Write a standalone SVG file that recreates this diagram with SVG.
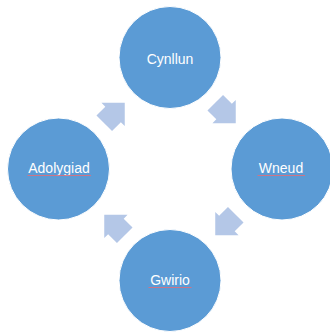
<svg xmlns="http://www.w3.org/2000/svg" width="330" height="334" viewBox="0 0 330 334">
  <defs>
    <style>
      .node { fill: #5B9BD5; stroke: #FFFFFF; stroke-width: 1; }
      .lbl { fill: #FFFFFF; font-family: "Liberation Sans", Arial, sans-serif; font-size: 14px; text-anchor: middle; }
      .arrow { fill: #B4C7E7; }
      .squiggle { fill: none; stroke: #D9707E; stroke-width: 0.9; }
    </style>
    <polygon id="blockArrow" points="-14.5,-11 -2,-11 -2,-16.5 14.5,0 -2,16.5 -2,11 -14.5,11"/>
  </defs>
  <rect width="330" height="334" fill="#FFFFFF"/>
  <g id="connectors">
    <use href="#blockArrow" class="arrow" transform="translate(114.5,113) rotate(-45)"/>
    <use href="#blockArrow" class="arrow" transform="translate(225.5,113) rotate(45)"/>
    <use href="#blockArrow" class="arrow" transform="translate(225.5,225) rotate(135)"/>
    <use href="#blockArrow" class="arrow" transform="translate(114.5,225) rotate(-135)"/>
  </g>
  <g id="node-cynllun">
    <circle class="node" cx="170" cy="57.5" r="51"/>
    <text class="lbl" x="170" y="64">Cynllun</text>
  </g>
  <g id="node-wneud">
    <circle class="node" cx="282" cy="169" r="51"/>
    <text class="lbl" x="281" y="172.5">Wneud</text>
    <path class="squiggle" d="M257.5,175.5 L305,175.5"/>
  </g>
  <g id="node-gwirio">
    <circle class="node" cx="170" cy="280.5" r="51"/>
    <text class="lbl" x="170" y="284.5">Gwirio</text>
    <path class="squiggle" d="M148.5,287.5 L191.5,287.5"/>
  </g>
  <g id="node-adolygiad">
    <circle class="node" cx="58.5" cy="169" r="51"/>
    <text class="lbl" x="59" y="172.5">Adolygiad</text>
    <path class="squiggle" d="M27.5,175.5 L91,175.5"/>
  </g>
</svg>
